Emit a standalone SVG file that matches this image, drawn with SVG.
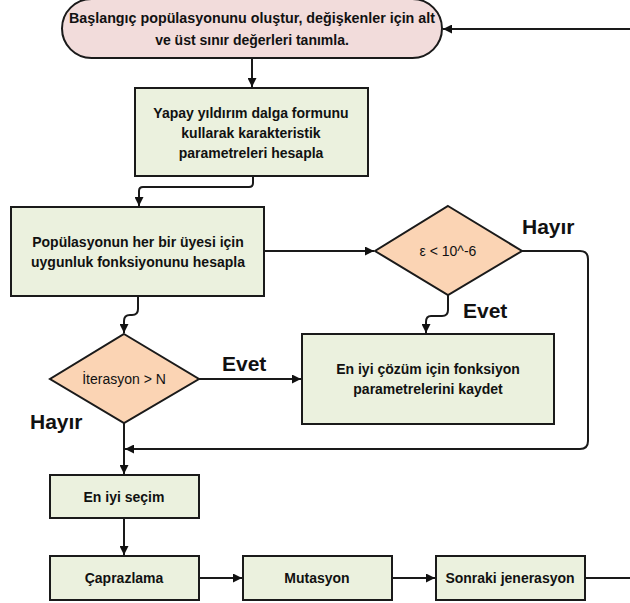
<svg xmlns="http://www.w3.org/2000/svg" width="630" height="603" viewBox="0 0 630 603">
<defs>
<marker id="ah" viewBox="0 0 10 10" refX="10" refY="5" markerWidth="9" markerHeight="9" markerUnits="userSpaceOnUse" orient="auto">
<path d="M0,0 L10,5 L0,10 z" fill="#111"/>
</marker>
<style>
.box{fill:#ebf1de;stroke:#1a1a1a;stroke-width:2}
.term{fill:#f2dcdb;stroke:#1a1a1a;stroke-width:2}
.dia{fill:#fbd4b4;stroke:#1a1a1a;stroke-width:2}
.t{font-family:"Liberation Sans",Arial,sans-serif;font-size:14px;font-weight:bold;fill:#111;text-anchor:middle;dominant-baseline:central}
.d{font-family:"Liberation Sans",Arial,sans-serif;font-size:14px;fill:#111;text-anchor:middle;dominant-baseline:central}
.lbl{font-family:"Liberation Sans",Arial,sans-serif;font-size:21px;font-weight:bold;fill:#111}
.c{fill:none;stroke:#1a1a1a;stroke-width:2}
.ca{fill:none;stroke:#1a1a1a;stroke-width:2;marker-end:url(#ah)}
</style>
</defs>
<rect width="630" height="603" fill="#fff"/>
<g id="connectors">
<path class="ca" d="M630,29 H443"/>
<path class="ca" d="M252,58 V87"/>
<path class="ca" d="M253,176 V183 Q253,187 249,187 H143 Q139,187 139,191 V206"/>
<path class="ca" d="M264,251 H374"/>
<path class="ca" d="M448,295 V310 Q448,316 442,316 H431 Q426,316 426,322 V333"/>
<path class="ca" d="M138,296 V309 Q138,315 132,315 H130 Q124,315 124,321 V333"/>
<path class="ca" d="M199,379 H301"/>
<path class="ca" d="M522,251 H580 Q588,251 588,259 V441 Q588,449 580,449 H125"/>
<path class="ca" d="M124,423 V474"/>
<path class="ca" d="M124,518 V555"/>
<path class="ca" d="M199,578 H242"/>
<path class="ca" d="M392,578 H435"/>
<path class="c" d="M585,578 H630"/>
</g>
<g id="start">
<rect class="term" x="62" y="-1" width="380" height="59" rx="29.5" ry="29.5"/>
<text class="t" x="252" y="18" textLength="366" lengthAdjust="spacingAndGlyphs">Başlangıç popülasyonunu oluştur, değişkenler için alt</text>
<text class="t" x="252" y="40">ve üst sınır değerleri tanımla.</text>
</g>
<g id="lightning">
<rect class="box" x="135" y="88" width="233" height="88"/>
<text class="t" x="251" y="113">Yapay yıldırım dalga formunu</text>
<text class="t" x="251" y="133">kullarak karakteristik</text>
<text class="t" x="251" y="153">parametreleri hesapla</text>
</g>
<g id="fitness">
<rect class="box" x="11" y="207" width="253" height="89"/>
<text class="t" x="138" y="242">Popülasyonun her bir üyesi için</text>
<text class="t" x="138" y="262">uygunluk fonksiyonunu hesapla</text>
</g>
<g id="eps">
<polygon class="dia" points="448,206 522,251 448,295 375,251"/>
<text class="d" x="448" y="251">ε &lt; 10^-6</text>
</g>
<g id="save">
<rect class="box" x="302" y="334" width="252" height="90"/>
<text class="t" x="428" y="369">En iyi çözüm için fonksiyon</text>
<text class="t" x="428" y="389">parametrelerini kaydet</text>
</g>
<g id="iter">
<polygon class="dia" points="124,334 199,379 124,423 50,379"/>
<text class="d" x="124" y="379">İterasyon &gt; N</text>
</g>
<g id="select">
<rect class="box" x="50" y="475" width="149" height="43"/>
<text class="t" x="124" y="497">En iyi seçim</text>
</g>
<g id="cross">
<rect class="box" x="50" y="556" width="149" height="44"/>
<text class="t" x="124" y="578">Çaprazlama</text>
</g>
<g id="mut">
<rect class="box" x="243" y="556" width="149" height="44"/>
<text class="t" x="317" y="578">Mutasyon</text>
</g>
<g id="next">
<rect class="box" x="436" y="556" width="149" height="44"/>
<text class="t" x="510" y="578">Sonraki jenerasyon</text>
</g>
<g id="labels">
<text class="lbl" x="522" y="234">Hayır</text>
<text class="lbl" x="463" y="318">Evet</text>
<text class="lbl" x="222" y="371">Evet</text>
<text class="lbl" x="30" y="429">Hayır</text>
</g>
</svg>
